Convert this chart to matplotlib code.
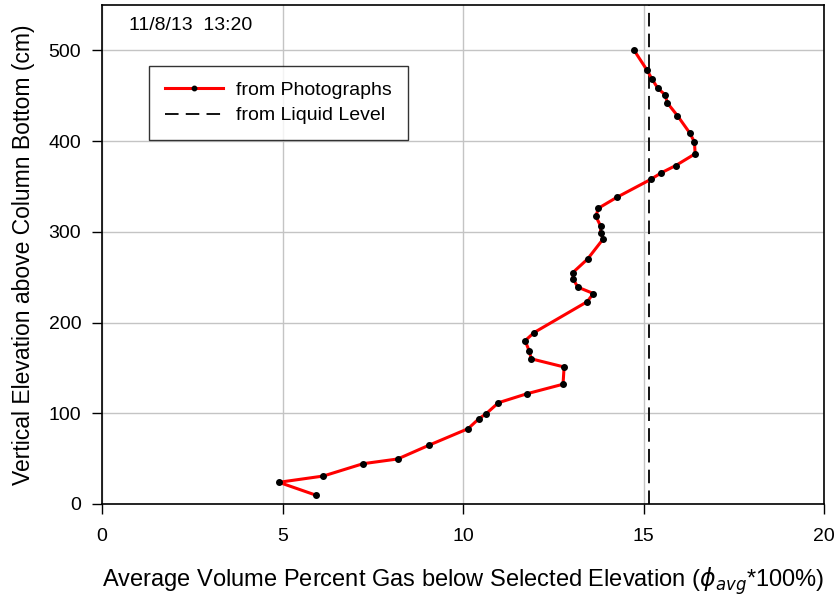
import matplotlib
matplotlib.use('Agg')
import matplotlib.pyplot as plt

plt.rcParams['font.family'] = ['Liberation Sans', 'DejaVu Sans']

# elevation (cm) and average volume percent gas from photographs
elev = [500, 478, 468, 458, 451, 442, 428, 409, 399, 386, 373, 365, 358, 338,
        326, 317, 306.5, 299, 292, 270, 255, 248, 239, 232, 223, 189, 180, 169,
        160, 151, 132, 121.5, 111.6, 99.5, 94, 83, 65, 49.6, 44.4, 30.8, 23.9, 9.5]
gas = [14.74, 15.10, 15.24, 15.40, 15.60, 15.66, 15.94, 16.28, 16.41, 16.43,
       15.89, 15.49, 15.21, 14.26, 13.75, 13.68, 13.81, 13.81, 13.88, 13.45,
       13.04, 13.05, 13.18, 13.61, 13.44, 11.97, 11.72, 11.83, 11.89, 12.80,
       12.77, 11.77, 10.98, 10.64, 10.44, 10.14, 9.07, 8.19, 7.23, 6.13, 4.90, 5.94]
liquid_level = 15.16

fig = plt.figure(figsize=(8.37, 5.96), dpi=100)
ax = fig.add_axes([0.1219, 0.1544, 0.8626, 0.8372])

ax.plot(gas, elev, color='red', lw=2.2, marker='o', ms=4, mfc='black', mec='black',
        label='from Photographs', zorder=3)
ax.axvline(liquid_level, color='black', ls=(0, (7.5, 4)), lw=1.3, label='from Liquid Level', zorder=2)

ax.set_xlim(0, 20)
ax.set_ylim(0, 550)
ax.set_xticks([0, 5, 10, 15, 20])
ax.set_yticks([0, 100, 200, 300, 400, 500])
ax.grid(True, color='#c4c4c4', lw=1)
ax.set_axisbelow(True)
ax.tick_params(labelsize=14, length=7, width=1, color='black')
ax.tick_params(axis='x', pad=10)
ax.tick_params(axis='y', pad=8)
for s in ax.spines.values():
    s.set_linewidth(1.2)

ax.set_xlabel(r'Average Volume Percent Gas below Selected Elevation ($\phi_{avg}$*100%)',
              fontsize=17, labelpad=15)
ax.set_ylabel('Vertical Elevation above Column Bottom (cm)', fontsize=16.5, labelpad=10)

ax.text(0.037, 0.958, '11/8/13  13:20', transform=ax.transAxes, fontsize=14, va='center')

leg = ax.legend(loc='upper left', bbox_to_anchor=(0.065, 0.878), fontsize=14,
                frameon=True, fancybox=False, edgecolor='black', borderpad=0.8,
                handlelength=3.0, handletextpad=0.7, labelspacing=0.4,
                markerscale=0.8, borderaxespad=0)
leg.get_frame().set_linewidth(1)

fig.savefig('out.png', dpi=100)
